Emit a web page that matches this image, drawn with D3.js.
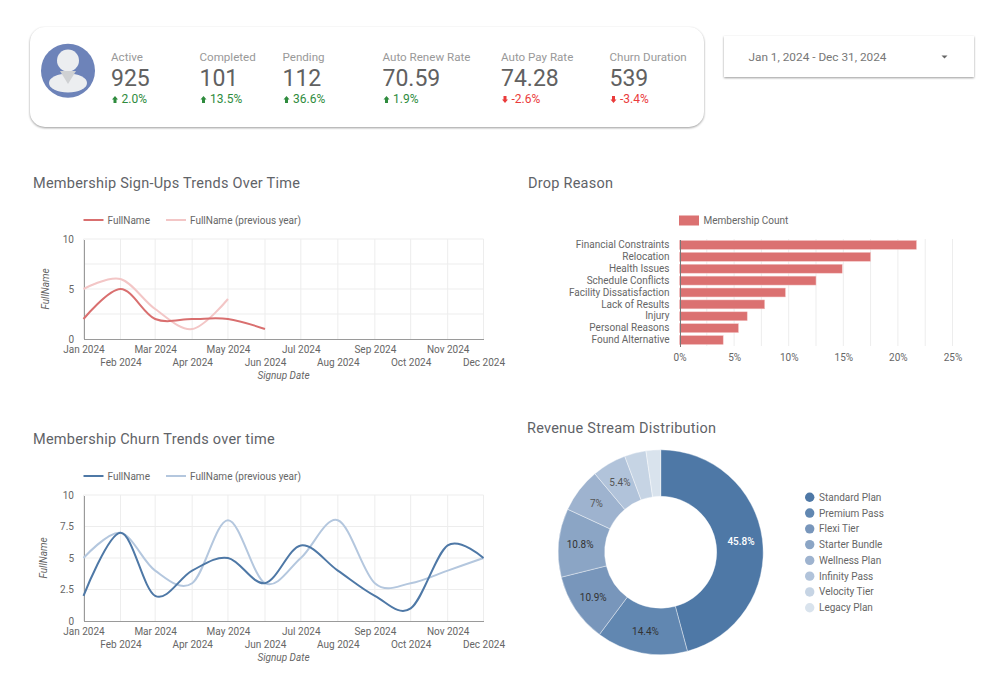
<!DOCTYPE html>
<html>
<head>
<meta charset="utf-8">
<script src="https://cdnjs.cloudflare.com/ajax/libs/d3/7.8.5/d3.min.js"></script>
<style>
body { margin: 0; background: #fff; }
svg { display: block; font-family: Roboto, sans-serif; }
.axis path, .axis line { shape-rendering: crispEdges; }
</style>
</head>
<body>
<svg id="board" width="988" height="692"></svg>
<script>
// values
var kpiLabels = ["Active", "Completed", "Pending", "Auto Renew Rate", "Auto Pay Rate", "Churn Duration"];
var kpiValues = ["925", "101", "112", "70.59", "74.28", "539"];
var kpiDeltas = [2.0, 13.5, 36.6, 1.9, -2.6, -3.4];
var kpiLeft = [111, 199.5, 282.5, 382.5, 501, 609.5];

var months = ["2024-01-01", "2024-02-01", "2024-03-01", "2024-04-01", "2024-05-01", "2024-06-01",
  "2024-07-01", "2024-08-01", "2024-09-01", "2024-10-01", "2024-11-01", "2024-12-01"];

var signups = [2, 5, 2, 2, 2, 1];
var signupsPrev = [5, 6, 3, 1, 4];
var churn = [2, 7, 2, 4, 5, 3, 6, 4, 2, 1, 6, 5];
var churnPrev = [5, 7, 4, 3, 8, 3, 5, 8, 3, 3, 4, 5];

var dropReasons = ["Financial Constraints", "Relocation", "Health Issues", "Schedule Conflicts",
  "Facility Dissatisfaction", "Lack of Results", "Injury", "Personal Reasons", "Found Alternative"];
var dropShare = [21.7, 17.5, 14.9, 12.5, 9.7, 7.8, 6.2, 5.4, 4.0];

var plans = ["Standard Plan", "Premium Pass", "Flexi Tier", "Starter Bundle", "Wellness Plan",
  "Infinity Pass", "Velocity Tier", "Legacy Plan"];
var planShare = [45.8, 14.4, 10.9, 10.8, 7, 5.4, 3.4, 2.3];
var planColors = ["#4e78a6", "#6187b1", "#7896bb", "#8ba5c5", "#9eb3cf", "#b1c3da", "#c6d4e4", "#d9e3ed"];

var svg = d3.select("#board");
var parseDay = d3.timeParse("%Y-%m-%d");
var monthDates = months.map(parseDay);
var titleColor = "#5f6368", axisText = "#666", gridColor = "#ededed", axisLine = "#9a9a9a";
var cardShadow = "drop-shadow(0 1.5px 1.2px rgba(0,0,0,0.4))";

function title(x, y, text) {
  svg.append("text").attr("x", x).attr("y", y).attr("font-size", 14.5)
    .attr("fill", titleColor).style("letter-spacing", "0.24px").text(text);
}

// ---- KPI card ----
svg.append("rect").attr("x", 30).attr("y", 27).attr("width", 674).attr("height", 100).attr("rx", 15)
  .attr("fill", "#fff").style("filter", cardShadow);

svg.append("circle").attr("cx", 68).attr("cy", 70.7).attr("r", 27).attr("fill", "#6d83b9");
svg.append("ellipse").attr("cx", 68).attr("cy", 83).attr("rx", 19).attr("ry", 9.5).attr("fill", "#eceef0");
svg.append("circle").attr("cx", 68).attr("cy", 60.5).attr("r", 11).attr("fill", "#eceef0");
svg.append("path").attr("d", "M60,71 L76,71 L68,84 Z").attr("fill", "#cfd1d3");

var kpi = svg.selectAll("g.kpi").data(kpiLabels).enter().append("g").attr("class", "kpi")
  .attr("transform", function(d, i) { return "translate(" + kpiLeft[i] + ",0)"; });
kpi.append("text").attr("y", 61).attr("font-size", 11.6).attr("fill", "#999").text(function(d) { return d; });
kpi.append("text").attr("y", 86).attr("font-size", 23).attr("fill", "#616161")
  .text(function(d, i) { return kpiValues[i]; });
kpi.append("text").attr("x", 10.5).attr("y", 103).attr("font-size", 12)
  .attr("fill", function(d, i) { return kpiDeltas[i] < 0 ? "#ea3b3b" : "#2e8b3d"; })
  .text(function(d, i) { return kpiDeltas[i].toFixed(1) + "%"; });
// little delta arrows
kpi.append("path")
  .attr("d", function(d, i) {
    return kpiDeltas[i] < 0
      ? "M2.5,96 h3 v3.5 h1.5 l-3,3.5 l-3,-3.5 h1.5 Z"
      : "M4,96 l3,3.5 h-1.5 v3.5 h-3 v-3.5 h-1.5 Z";
  })
  .attr("fill", function(d, i) { return kpiDeltas[i] < 0 ? "#ea3b3b" : "#2e8b3d"; });

// ---- date picker ----
svg.append("rect").attr("x", 724).attr("y", 36).attr("width", 250).attr("height", 41)
  .attr("fill", "#fff").style("filter", cardShadow);
svg.append("text").attr("x", 748.5).attr("y", 61).attr("font-size", 11.8).attr("fill", "#777")
  .text("Jan 1, 2024 - Dec 31, 2024");
svg.append("path").attr("d", "M941.5,55.5 h6 l-3,3 Z").attr("fill", "#666");

// ---- line charts ----
function lineChart(opt) {
  var x = d3.scaleTime().domain([monthDates[0], monthDates[11]]).range([83.5, 483.5]);
  var y = d3.scaleLinear().domain([0, 10]).range([opt.bottom, opt.top]);
  var g = svg.append("g");

  // gridlines, with the minor ones between labelled values
  g.append("g").selectAll("line").data(monthDates).enter().append("line")
    .attr("x1", x).attr("x2", x).attr("y1", opt.top).attr("y2", opt.bottom)
    .attr("stroke", gridColor);
  g.append("g").selectAll("line").data(opt.grid).enter().append("line")
    .attr("x1", x.range()[0]).attr("x2", x.range()[1]).attr("y1", y).attr("y2", y)
    .attr("stroke", gridColor);

  var xAxis = g.append("g").attr("class", "axis").attr("transform", "translate(0," + opt.bottom + ")")
    .call(d3.axisBottom(x).tickValues(monthDates).tickSize(0).tickFormat(d3.timeFormat("%b %Y")));
  xAxis.select(".domain").attr("stroke", axisLine);
  xAxis.selectAll("text").attr("font-size", 10).attr("font-family", "Roboto").attr("fill", axisText)
    .attr("dy", null)
    .attr("y", function(d, i) { return i % 2 ? 27 : 14; });

  var yAxis = g.append("g").attr("class", "axis").attr("transform", "translate(83.5,0)")
    .call(d3.axisLeft(y).tickValues(opt.ticks).tickSize(0).tickPadding(9.5).tickFormat(function(d) { return d; }));
  yAxis.select(".domain").attr("stroke", axisLine);
  yAxis.selectAll("text").attr("font-size", 10).attr("font-family", "Roboto").attr("fill", axisText);

  var line = d3.line()
    .x(function(d, i) { return x(monthDates[i]); })
    .y(function(d) { return y(d); })
    .curve(d3.curveCardinal.tension(0));

  g.append("path").attr("d", line(opt.prev)).attr("fill", "none").attr("stroke", opt.prevColor).attr("stroke-width", 2);
  g.append("path").attr("d", line(opt.cur)).attr("fill", "none").attr("stroke", opt.color).attr("stroke-width", 2);

  // axis titles
  g.append("text").attr("x", 283.5).attr("y", opt.bottom + 39.5).attr("text-anchor", "middle")
    .attr("font-size", 10).attr("font-style", "italic").attr("fill", axisText).text("Signup Date");
  g.append("text").attr("transform", "translate(" + opt.yTitleX + "," + ((opt.top + opt.bottom) / 2) + ") rotate(-90)")
    .attr("text-anchor", "middle").attr("font-size", 10).attr("font-style", "italic").attr("fill", axisText).text("FullName");

  // legend
  var ly = opt.top - 19;
  [[opt.color, 83.5, "FullName"], [opt.prevColor, 166, "FullName (previous year)"]].forEach(function(l) {
    g.append("line").attr("x1", l[1]).attr("x2", l[1] + 20).attr("y1", ly).attr("y2", ly)
      .attr("stroke", l[0]).attr("stroke-width", 2);
    g.append("text").attr("x", l[1] + 24).attr("y", ly + 3.5).attr("font-size", 10).attr("fill", axisText).text(l[2]);
  });
}

title(33, 188, "Membership Sign-Ups Trends Over Time");
lineChart({ top: 239, bottom: 339, yTitleX: 48.5, grid: [2.5, 5, 7.5, 10], ticks: [0, 5, 10],
  cur: signups, prev: signupsPrev, color: "#d96f6f", prevColor: "#f3c6c6" });

title(33, 444, "Membership Churn Trends over time");
lineChart({ top: 495, bottom: 621, yTitleX: 47, grid: [2.5, 5, 7.5, 10], ticks: [0, 2.5, 5, 7.5, 10],
  cur: churn, prev: churnPrev, color: "#4e78a6", prevColor: "#b4c7de" });

// ---- drop reason bars ----
title(528, 188, "Drop Reason");
var barX = d3.scaleLinear().domain([0, 25]).range([679.5, 952.5]);
var barY = d3.scaleBand().domain(dropReasons).range([239, 346]).paddingInner(0.25).paddingOuter(0.125);

svg.append("g").selectAll("line").data(d3.range(2.5, 25.1, 2.5)).enter().append("line")
  .attr("x1", barX).attr("x2", barX).attr("y1", 239).attr("y2", 346).attr("stroke", gridColor);

svg.append("g").selectAll("rect").data(dropShare).enter().append("rect")
  .attr("x", barX(0))
  .attr("y", function(d, i) { return barY(dropReasons[i]); })
  .attr("width", function(d) { return barX(d) - barX(0); })
  .attr("height", barY.bandwidth())
  .attr("fill", "#db7171").attr("stroke", "#f3c6c6").attr("stroke-width", 0.5);

var barAxisY = svg.append("g").attr("class", "axis").attr("transform", "translate(679.5,0)")
  .call(d3.axisLeft(barY).tickSize(0).tickPadding(10));
barAxisY.select(".domain").attr("stroke", "#777");
barAxisY.selectAll("text").attr("font-size", 10).attr("font-family", "Roboto").attr("fill", axisText);

var barAxisX = svg.append("g").attr("class", "axis").attr("transform", "translate(0,346)")
  .call(d3.axisBottom(barX).tickValues([0, 5, 10, 15, 20, 25]).tickSize(0).tickFormat(function(d) { return d + "%"; }));
barAxisX.select(".domain").remove();
barAxisX.selectAll("text").attr("font-size", 10).attr("font-family", "Roboto").attr("fill", axisText)
  .attr("dy", null).attr("y", 14.5);

svg.append("rect").attr("x", 679).attr("y", 215.5).attr("width", 20).attr("height", 10).attr("fill", "#db7171");
svg.append("text").attr("x", 703.5).attr("y", 224).attr("font-size", 10).attr("fill", axisText).text("Membership Count");

// ---- revenue donut ----
title(527, 433, "Revenue Stream Distribution");
var pie = d3.pie().sort(null)(planShare);
var arc = d3.arc().innerRadius(56).outerRadius(102.5);
var labelArc = d3.arc().innerRadius(81).outerRadius(81);
var donut = svg.append("g").attr("transform", "translate(660.7,552.3)");

donut.selectAll("path").data(pie).enter().append("path")
  .attr("d", arc)
  .attr("fill", function(d, i) { return planColors[i]; })
  .attr("stroke", "#fff").attr("stroke-width", 0.4);

donut.selectAll("text").data(pie.filter(function(d) { return d.data >= 5; })).enter().append("text")
  .attr("transform", function(d) { return "translate(" + labelArc.centroid(d) + ")"; })
  .attr("text-anchor", "middle").attr("dy", "0.35em").attr("font-size", 10)
  .attr("font-weight", function(d) { return d.index === 0 ? 500 : 400; })
  .attr("fill", function(d) { return d.index === 0 ? "#fff" : d.index < 4 ? "#333" : "#555"; })
  .text(function(d) { return d.data + "%"; });

var legendY = d3.scalePoint().domain(plans).range([497.3, 607.7]);
var legend = svg.append("g").selectAll("g").data(plans).enter().append("g")
  .attr("transform", function(d) { return "translate(809.7," + legendY(d) + ")"; });
legend.append("circle").attr("r", 4.7).attr("fill", function(d, i) { return planColors[i]; });
legend.append("text").attr("x", 9.3).attr("dy", "0.35em").attr("font-size", 10).attr("fill", axisText)
  .text(function(d) { return d; });
</script>
</body>
</html>
